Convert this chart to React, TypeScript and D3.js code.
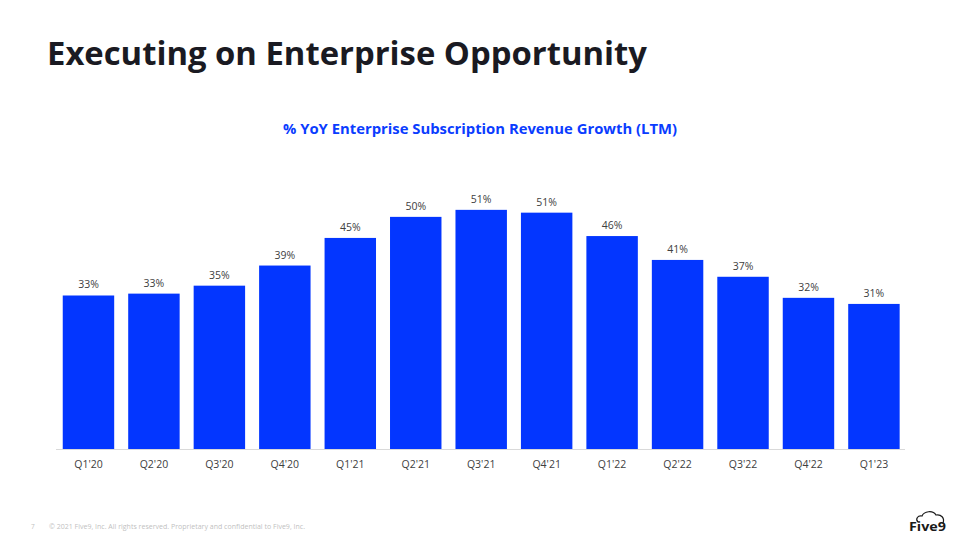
import React from "react";
import * as d3 from "d3";

const categories = ["Q1'20","Q2'20","Q3'20","Q4'20","Q1'21","Q2'21","Q3'21","Q4'21","Q1'22","Q2'22","Q3'22","Q4'22","Q1'23"];
const values = [32.8, 33.2, 34.9, 39.2, 45.1, 49.6, 51.1, 50.5, 45.5, 40.4, 36.8, 32.3, 31.0];
const labels = ["33%","33%","35%","39%","45%","50%","51%","51%","46%","41%","37%","32%","31%"];

const W = 960, H = 540;
const FONT = "Open Sans, Noto Sans, sans-serif";

export default function App() {
  const x = d3.scaleBand<string>().domain(categories).range([56.2, 906.2]).paddingInner(0.214).paddingOuter(0.1);
  const y = d3.scaleLinear().domain([0, 55]).range([449, 449 - 55 * 4.68]);
  return (
    <svg width={W} height={H} style={{ position: "absolute", left: 0, top: 0, background: "#fff" }}>
      <rect width={W} height={H} fill="#fff" />
      <text x={47} y={65} fontFamily={FONT} fontWeight={700} fontSize={33} fill="#1a1a22" textLength={600} lengthAdjust="spacingAndGlyphs">Executing on Enterprise Opportunity</text>
      <text x={480} y={134} textAnchor="middle" fontFamily={FONT} fontWeight={700} fontSize={14.5} fill="#0a3cff" textLength={394} lengthAdjust="spacingAndGlyphs">% YoY Enterprise Subscription Revenue Growth (LTM)</text>
      {categories.map((c, i) => (
        <g key={c}>
          <rect x={x(c)} y={y(values[i])} width={x.bandwidth()} height={y(0) - y(values[i])} fill="#0336ff" />
          <text x={(x(c) as number) + x.bandwidth() / 2} y={y(values[i]) - 7} textAnchor="middle" fontFamily={FONT} fontSize={10.5} fill="#404040">{labels[i]}</text>
          <text x={(x(c) as number) + x.bandwidth() / 2} y={468} textAnchor="middle" fontFamily={FONT} fontSize={10.5} fill="#404040">{c}</text>
        </g>
      ))}
      <line x1={56} x2={905} y1={449.5} y2={449.5} stroke="#d9d9d9" strokeWidth={1} />
      <text x={31} y={529} fontFamily={FONT} fontSize={6.5} fill="#bfbfbf">7</text>
      <text x={49} y={529} fontFamily={FONT} fontSize={6.5} fill="#bfbfbf" textLength={256} lengthAdjust="spacingAndGlyphs">© 2021 Five9, Inc. All rights reserved. Proprietary and confidential to Five9, Inc.</text>
      <g>
        <path d="M918,522 C915,519 918,515 922,516 C924,511 933,510 936,515 C941,514 945,518 943,523" fill="none" stroke="#1a1a1a" strokeWidth={1.2} />
        <text x={909} y={531} fontFamily={FONT} fontWeight={700} fontSize={12} fill="#1a1a1a" textLength={37} lengthAdjust="spacingAndGlyphs">Five9</text>
      </g>
    </svg>
  );
}
